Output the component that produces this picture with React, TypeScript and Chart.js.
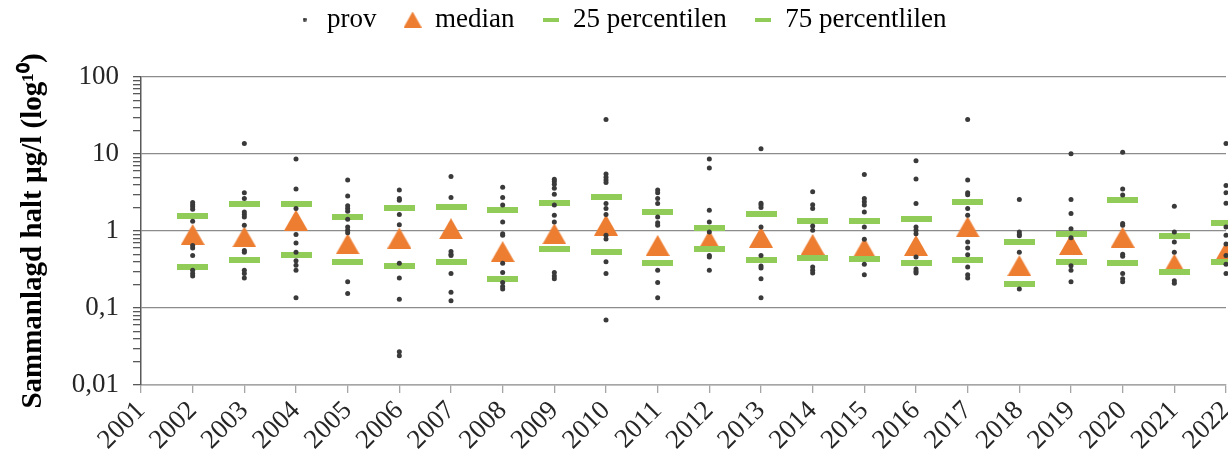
import React, { useEffect, useRef } from 'react';
import { Chart, registerables } from 'chart.js';

Chart.register(...registerables);

// ---- Data ----
const years = ['2001', '2002', '2003', '2004', '2005', '2006', '2007', '2008', '2009', '2010', '2011',
  '2012', '2013', '2014', '2015', '2016', '2017', '2018', '2019', '2020', '2021', '2022'];
const dataYears = years.slice(1);

const prov2002 = [2.35, 2.2, 2.06, 1.92, 1.34, 0.65, 0.6, 0.48, 0.31, 0.28, 0.26];
const prov2003 = [13.7, 3.15, 2.65, 1.77, 1.64, 1.52, 1.19, 0.56, 0.53, 0.31, 0.28, 0.245];
const prov2004 = [8.6, 3.5, 1.96, 0.9, 0.7, 0.53, 0.41, 0.36, 0.31, 0.136];
const prov2005 = [4.6, 2.85, 2.13, 1.96, 1.81, 1.42, 1.13, 1.02, 0.95, 0.22, 0.154];
const prov2006 = [3.4, 2.65, 2.5, 1.64, 1.21, 0.38, 0.245, 0.13, 0.027, 0.024];
const prov2007 = [5.1, 2.73, 0.54, 0.5, 0.48, 0.28, 0.16, 0.124];
const prov2008 = [3.7, 2.73, 2.17, 1.31, 0.92, 0.88, 0.38, 0.29, 0.215, 0.19, 0.176];
const prov2009 = [4.7, 4.4, 4.05, 3.6, 3.0, 2.17, 1.6, 1.31, 0.29, 0.26, 0.24];
const prov2010 = [28, 5.5, 5.0, 4.6, 4.25, 2.28, 1.96, 1.64, 0.88, 0.79, 0.4, 0.28, 0.07];
const prov2011 = [3.4, 3.15, 2.65, 2.28, 1.52, 1.28, 1.19, 0.31, 0.215, 0.136];
const prov2012 = [8.6, 6.6, 1.86, 1.31, 0.97, 0.48, 0.46, 0.31];
const prov2013 = [11.7, 2.3, 2.17, 2.02, 1.13, 0.48, 0.35, 0.33, 0.24, 0.136];
const prov2014 = [3.24, 2.2, 1.96, 1.16, 1.02, 0.34, 0.31, 0.285];
const prov2015 = [5.4, 2.65, 2.4, 2.17, 1.77, 1.13, 0.78, 0.37, 0.27];
const prov2016 = [8.2, 4.75, 2.28, 1.13, 1.02, 0.92, 0.46, 0.32, 0.3, 0.285];
const prov2017 = [28, 4.6, 3.15, 2.95, 1.96, 1.6, 0.72, 0.6, 0.49, 0.34, 0.27, 0.245];
const prov2018 = [2.57, 0.97, 0.9, 0.87, 0.53, 0.176];
const prov2019 = [10.1, 2.57, 1.69, 1.07, 0.82, 0.355, 0.31, 0.22];
const prov2020 = [10.5, 3.5, 2.93, 1.25, 1.19, 0.5, 0.47, 0.28, 0.24, 0.22];
const prov2021 = [2.1, 0.97, 0.72, 0.53, 0.226, 0.21];
const prov2022 = [13.7, 3.9, 3.15, 2.3, 1.13, 0.88, 0.68, 0.48, 0.37, 0.28];

const provByYear = [prov2002, prov2003, prov2004, prov2005, prov2006, prov2007, prov2008, prov2009,
  prov2010, prov2011, prov2012, prov2013, prov2014, prov2015, prov2016, prov2017, prov2018, prov2019,
  prov2020, prov2021, prov2022];

const medians = [0.9, 0.84, 1.38, 0.68, 0.81, 1.07, 0.54, 0.92, 1.19, 0.65, 0.75, 0.83, 0.67, 0.6,
  0.65, 1.13, 0.355, 0.67, 0.83, 0.37, 0.53];
const p25 = [0.34, 0.42, 0.49, 0.4, 0.35, 0.4, 0.24, 0.59, 0.53, 0.38, 0.58, 0.42, 0.45, 0.43, 0.38,
  0.42, 0.204, 0.4, 0.38, 0.29, 0.4];
const p75 = [1.57, 2.26, 2.26, 1.5, 1.96, 2.04, 1.85, 2.28, 2.79, 1.74, 1.1, 1.65, 1.34, 1.34, 1.42,
  2.4, 0.72, 0.92, 2.52, 0.85, 1.27];

const yMajorTicks = [0.01, 0.1, 1, 10, 100];
const yTickLabels = ['0,01', '0,1', '1', '10', '100'];

const seriesLabels = ['prov', 'median', '25 percentilen', '75 percentlilen'];
const yTitle = 'Sammanlagd halt µg/l (log¹⁰)';

// ---- Styles ----
const FONT = "'Liberation Serif', 'Times New Roman', serif";
const DOT = '#3a3a3a';
const ORANGE = '#ED7D31';
const GREEN = '#92CC58';

function makeCanvas(w: number, h: number, draw: (ctx: CanvasRenderingContext2D) => void) {
  const c = document.createElement('canvas');
  c.width = w;
  c.height = h;
  const ctx = c.getContext('2d')!;
  draw(ctx);
  return c;
}

function triangle(w: number, h: number) {
  return makeCanvas(w, h, (ctx) => {
    ctx.fillStyle = ORANGE;
    ctx.beginPath();
    ctx.moveTo(w / 2, 0);
    ctx.lineTo(w, h);
    ctx.lineTo(0, h);
    ctx.closePath();
    ctx.fill();
  });
}

function bar(w: number, h: number) {
  return makeCanvas(w, h, (ctx) => {
    ctx.fillStyle = GREEN;
    ctx.fillRect(0, 0, w, h);
  });
}

function dot(d: number) {
  return makeCanvas(d, d, (ctx) => {
    ctx.fillStyle = DOT;
    ctx.beginPath();
    ctx.arc(d / 2, d / 2, d / 2, 0, Math.PI * 2);
    ctx.fill();
  });
}

export default function App() {
  const ref = useRef<HTMLCanvasElement | null>(null);

  useEffect(() => {
    if (!ref.current) return;

    const triImg = triangle(24, 21);
    const barImg = bar(31, 6);
    const legendImgs = [dot(4), triangle(18, 16), bar(16, 4), bar(16, 4)];

    const provPoints: { x: string; y: number }[] = [];
    provByYear.forEach((vals, i) => vals.forEach((v) => provPoints.push({ x: dataYears[i], y: v })));
    const toPts = (arr: number[]) => arr.map((v, i) => ({ x: dataYears[i], y: v }));

    const legendSpacer = {
      id: 'legendSpacer',
      beforeInit(chart: any) {
        const orig = chart.legend.fit;
        chart.legend.fit = function fit() {
          orig.bind(chart.legend)();
          this.height += 34;
        };
      },
    };

    const isMajor = (v: number) => yMajorTicks.some((m) => Math.abs(v - m) / m < 1e-6);

    const chart = new Chart(ref.current, {
      type: 'scatter',
      data: {
        labels: years,
        datasets: [
          {
            label: seriesLabels[0],
            data: provPoints,
            pointStyle: 'circle',
            pointRadius: 2.5,
            backgroundColor: DOT,
            borderWidth: 0,
            order: 0,
            clip: false,
          },
          {
            label: seriesLabels[1],
            data: toPts(medians),
            pointStyle: triImg,
            pointRadius: 12,
            order: 2,
            clip: false,
          },
          {
            label: seriesLabels[2],
            data: toPts(p25),
            pointStyle: barImg,
            pointRadius: 12,
            order: 1,
            clip: false,
          },
          {
            label: seriesLabels[3],
            data: toPts(p75),
            pointStyle: barImg,
            pointRadius: 12,
            order: 1,
            clip: false,
          },
        ] as any,
      },
      options: {
        responsive: false,
        animation: false,
        events: [],
        layout: { autoPadding: false, padding: { top: -21, right: 2, left: 16, bottom: 0 } },
        plugins: {
          tooltip: { enabled: false },
          legend: {
            position: 'top',
            labels: {
              usePointStyle: true,
              boxWidth: 18,
              boxHeight: 18,
              padding: 27,
              color: '#000',
              font: { family: FONT, size: 27 },
              generateLabels: () =>
                seriesLabels.map((text, i) => ({
                  text,
                  datasetIndex: i,
                  pointStyle: legendImgs[i],
                  fillStyle: 'transparent',
                  strokeStyle: 'transparent',
                  lineWidth: 0,
                  hidden: false,
                  fontColor: '#000',
                })) as any,
            },
          },
        },
        scales: {
          x: {
            type: 'category',
            labels: years,
            offset: false,
            afterFit: (s: any) => {
              s.height = 75;
              s.paddingRight = 0;
              s.paddingLeft = 0;
            },
            grid: {
              drawOnChartArea: false,
              drawTicks: true,
              tickLength: 8,
              color: '#a6a6a6',
              lineWidth: 1.3,
            },
            border: { color: '#a6a6a6', width: 1.5 },
            ticks: {
              autoSkip: false,
              maxRotation: 45,
              minRotation: 45,
              color: '#262626',
              padding: 2,
              font: { family: FONT, size: 27 },
            },
          },
          y: {
            type: 'logarithmic',
            min: 0.01,
            max: 100,
            afterFit: (s: any) => {
              s.width = 125;
            },
            afterBuildTicks: (s: any) => {
              const ticks: { value: number }[] = [];
              for (let i = 0; i < yMajorTicks.length - 1; i++) {
                for (let m = 1; m <= 9; m++) ticks.push({ value: +(m * yMajorTicks[i]).toPrecision(6) });
              }
              ticks.push({ value: yMajorTicks[yMajorTicks.length - 1] });
              s.ticks = ticks;
            },
            grid: {
              color: (ctx: any) => (ctx.tick && isMajor(ctx.tick.value) ? '#8c8c8c' : 'rgba(0,0,0,0)'),
              tickColor: '#595959',
              tickLength: 8,
              lineWidth: 1.3,
            },
            border: { color: '#595959', width: 1.5 },
            ticks: {
              autoSkip: false,
              padding: 14,
              color: '#262626',
              font: { family: FONT, size: 27 },
              callback: (v: any) => {
                const idx = yMajorTicks.findIndex((m) => Math.abs(Number(v) - m) / m < 1e-6);
                return idx >= 0 ? yTickLabels[idx] : '';
              },
            },
            title: {
              display: true,
              text: yTitle,
              color: '#000',
              font: { family: FONT, size: 29, weight: 'bold' },
              padding: { top: 0, bottom: 0 },
            },
          },
        },
      } as any,
      plugins: [legendSpacer],
    });

    return () => chart.destroy();
  }, []);

  return (
    <div style={{ position: 'fixed', left: 0, top: 0, width: 1228, height: 460, background: '#fff' }}>
      <canvas ref={ref} width={1228} height={460} style={{ display: 'block' }} />
    </div>
  );
}
